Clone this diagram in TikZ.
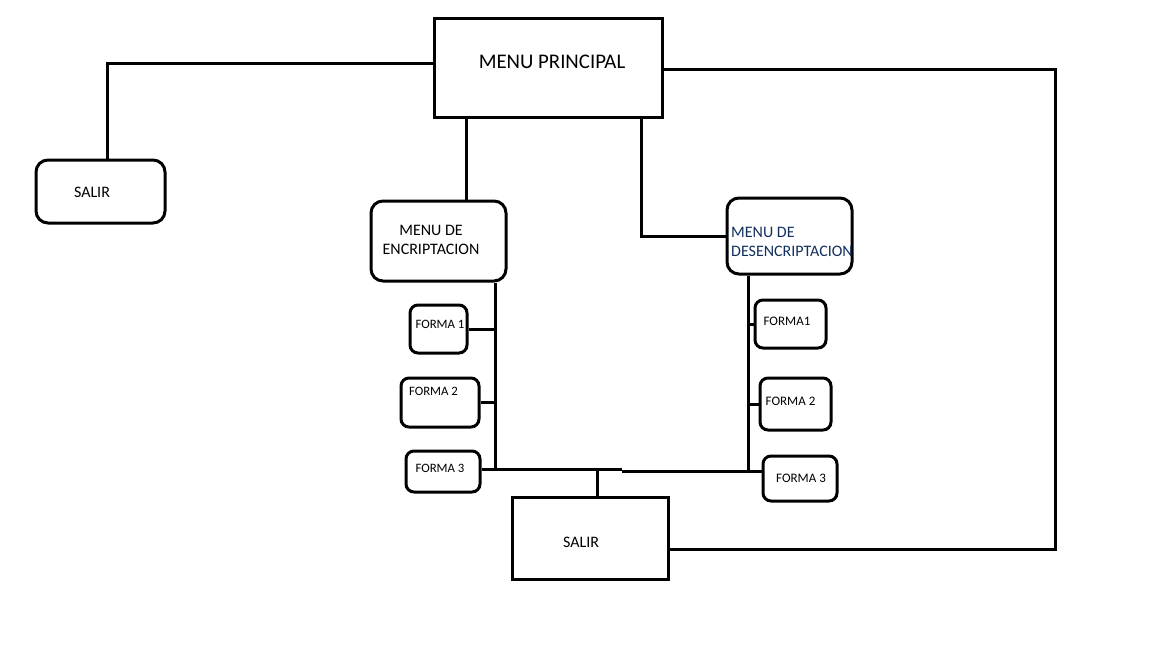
\documentclass[tikz,border=0pt]{standalone}
\usepackage{fontspec}
\setmainfont{Carlito}
\definecolor{navytext}{HTML}{12305E}
\begin{document}
\begin{tikzpicture}[x=1pt,y=-1pt,
  box/.style={draw,line width=3pt,inner sep=0pt,rectangle},
  rbox/.style={box,rounded corners=12pt},
  fbox/.style={box,rounded corners=8pt},
  wire/.style={line width=3pt},
  txt/.style={inner sep=0pt,text=black},
  fs/.style={font=\fontsize{#1}{#1}\selectfont}
]
\useasboundingbox[fill=white] (0,0) rectangle (1152,648);
% boxes
\node[box,minimum width=228pt,minimum height=99pt] (MP) at (548,67.5) {};
\node[rbox,minimum width=129pt,minimum height=63pt] (SL) at (100.5,191.5) {};
\node[rbox,minimum width=135pt,minimum height=80pt] (ENC) at (438.5,241) {};
\node[rbox,minimum width=125pt,minimum height=76pt] (DES) at (789.5,236) {};
\node[fbox,minimum width=57pt,minimum height=48pt] (F1L) at (438.5,329) {};
\node[fbox,minimum width=78pt,minimum height=49pt] (F2L) at (440,402.5) {};
\node[fbox,minimum width=74pt,minimum height=41pt] (F3L) at (443,471.5) {};
\node[fbox,minimum width=71pt,minimum height=48pt] (F1R) at (790.5,324) {};
\node[fbox,minimum width=71pt,minimum height=52pt] (F2R) at (795.5,404) {};
\node[fbox,minimum width=74pt,minimum height=45pt] (F3R) at (800,478.5) {};
\node[box,minimum width=156pt,minimum height=82pt] (SB) at (590,538) {};
% texts
\node[txt,fs=20.8] (tMP) at (552,62) {MENU PRINCIPAL};
\node[txt,fs=16] (tSL) at (92,192) {SALIR};
\node[txt,font=\fontsize{16}{19}\selectfont,align=center] (tENC) at (431,240) {MENU DE\\ENCRIPTACION};
\node[txt,font=\fontsize{16}{19}\selectfont,align=left,anchor=west,text=navytext] (tDES) at (731,241.5) {MENU DE\\DESENCRIPTACION};
\node[txt,fs=12.8] (tF1L) at (440,324) {FORMA 1};
\node[txt,fs=12.8] (tF2L) at (433.5,391) {FORMA 2};
\node[txt,fs=12.8] (tF3L) at (440,468) {FORMA 3};
\node[txt,fs=13] (tF1R) at (787,321) {FORMA1};
\node[txt,fs=13] (tF2R) at (790.5,401) {FORMA 2};
\node[txt,fs=13] (tF3R) at (801,478) {FORMA 3};
\node[txt,fs=16] (tSB) at (581,542) {SALIR};
% corner coordinates
\coordinate (k1) at (107,63);
\coordinate (k2) at (466,150);
\coordinate (k3) at (641,236);
\coordinate (k4) at (495,469);
\coordinate (k5) at (622,469);
\coordinate (k5b) at (622,471);
\coordinate (k6) at (748,471);
\coordinate (k7) at (597,469);
\coordinate (k8) at (1055,69);
\coordinate (k9) at (1055,549);
% connectors
\draw[wire] (SL.north -| k1) -- (k1) -- (MP.west |- k1);
\draw[wire] (MP.south -| k2) -- (ENC.north -| k2);
\draw[wire] (MP.south -| k3) -- (k3) -- (DES.west |- k3);
\draw[wire] (ENC.south -| k4) -- (k4);
\draw[wire] (F1L.east) -- (F1L.east -| k4);
\draw[wire] (F2L.east) -- (F2L.east -| k4);
\draw[wire] (F3L.east |- k4) -- (k4) -- (k5);
\draw[wire] (k5b) -- (k6);
\draw[wire] (DES.south -| k6) -- (k6);
\draw[wire] (F1R.west -| k6) -- (F1R.west);
\draw[wire] (F2R.west -| k6) -- (F2R.west);
\draw[wire] (k6) -- (F3R.west |- k6);
\draw[wire] (k7) -- (SB.north -| k7);
\draw[wire] (MP.east |- k8) -- (k8) -- (k9) -- (SB.east |- k9);
\end{tikzpicture}
\end{document}
